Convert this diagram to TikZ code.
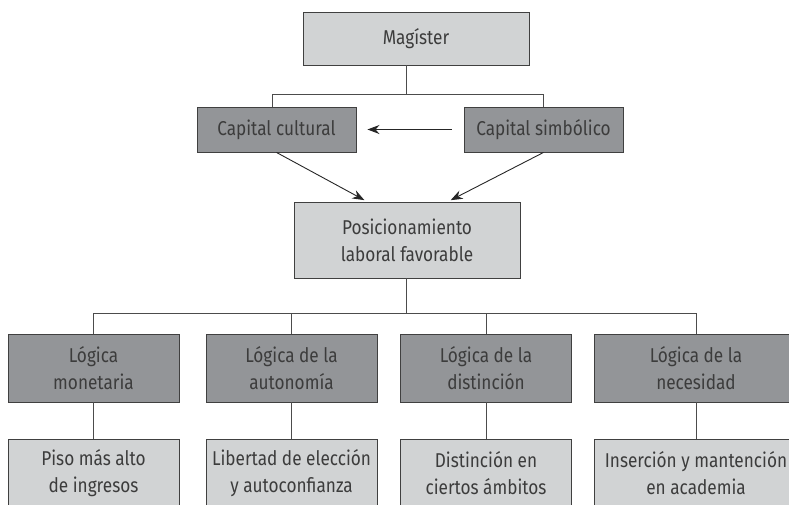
\documentclass[tikz,border=0pt]{standalone}
\usepackage{fontspec}
\setmainfont{Fira Sans}[FakeStretch=0.86]
\usetikzlibrary{arrows.meta}
\definecolor{darkbox}{HTML}{939598}
\definecolor{lightbox}{HTML}{D1D3D4}
\definecolor{boxtext}{HTML}{3C3C3C}
\definecolor{boxline}{HTML}{404040}

\begin{document}
\begin{tikzpicture}[x=1pt, y=-1pt,
  box/.style={rectangle, draw=boxline, line width=0.9pt, text=boxtext, align=center, inner sep=0pt, font=\fontsize{20}{27}\selectfont},
  dark/.style={box, fill=darkbox},
  light/.style={box, fill=lightbox},
  tree/.style={draw=black!70, line width=0.8pt},
  arr/.style={draw=black!85, line width=0.9pt, -{Stealth[length=12pt,width=9pt]}}]
  \useasboundingbox (0,0) rectangle (789,504);

  \node[light, minimum width=226pt, minimum height=53pt] (mag) at (416, 38.5) {Magíster};
  \node[dark, minimum width=159pt, minimum height=45pt] (capc) at (276.5, 129.5) {Capital cultural};
  \node[dark, minimum width=159pt, minimum height=45pt] (caps) at (543.5, 129.5) {Capital simbólico};
  \node[light, minimum width=226pt, minimum height=76pt] (pos) at (407, 240) {Posicionamiento\\laboral favorable};

  \node[dark, minimum width=171pt, minimum height=68pt] (lmon) at (93.5, 368) {Lógica\\monetaria};
  \node[dark, minimum width=171pt, minimum height=68pt] (laut) at (291.5, 368) {Lógica de la\\autonomía};
  \node[dark, minimum width=171pt, minimum height=68pt] (ldis) at (486, 368) {Lógica de la\\distinción};
  \node[dark, minimum width=204pt, minimum height=68pt] (lnec) at (696, 368) {Lógica de la\\necesidad};

  \node[light, minimum width=171pt, minimum height=68pt] (piso) at (93.5, 473) {Piso más alto\\de ingresos};
  \node[light, minimum width=171pt, minimum height=68pt] (libe) at (291.5, 473) {Libertad de elección\\y autoconfianza};
  \node[light, minimum width=171pt, minimum height=68pt] (dist) at (486, 473) {Distinción en\\ciertos ámbitos};
  \node[light, minimum width=204pt, minimum height=68pt] (inse) at (696, 473) {Inserción y mantención\\en academia};

  \coordinate (j1) at (406, 94);
  \coordinate (j2) at (406, 313);

  \draw[tree] (mag.south -| j1) -- (j1) -| ([xshift=-4pt]capc.north);
  \draw[tree] (j1) -| (caps.north);
  \draw[tree] (pos.south -| j2) -- (j2) -| (lmon.north);
  \draw[tree] (j2) -| (laut.north);
  \draw[tree] (j2) -| (ldis.north);
  \draw[tree] (j2) -| (lnec.north);
  \draw[tree] (lmon.south) -- (piso.north);
  \draw[tree] (laut.south) -- (libe.north);
  \draw[tree] (ldis.south) -- (dist.north);
  \draw[tree] (lnec.south) -- (inse.north);

  \draw[arr] ([xshift=-12pt]caps.west) -- ([xshift=11pt]capc.east);
  \draw[arr, shorten >=3pt] (capc.south) -- ([xshift=-40pt]pos.north);
  \draw[arr, shorten >=3pt] (caps.south) -- ([xshift=41pt]pos.north);
\end{tikzpicture}
\end{document}
